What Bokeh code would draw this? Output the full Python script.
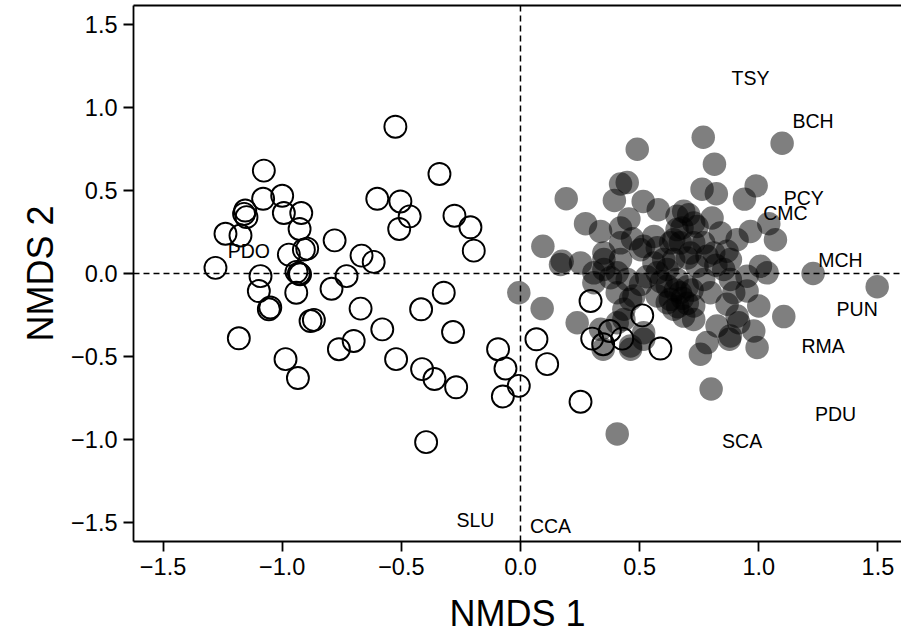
from bokeh.plotting import figure
from bokeh.models import Span, LinearAxis, FixedTicker, ColumnDataSource
from bokeh.core.properties import value
from bokeh.embed import file_html
from bokeh.resources import INLINE

# Group A (open circles)
open_x = [-0.525, -1.077, -0.340, -1.080, -1.000, -0.601, -0.504, -1.155, -1.160, -1.150,
          -0.993, -0.920, -0.465, -0.277, -0.927, -0.509, -0.210, -0.196, -1.238, -1.175,
          -0.780, -0.909, -0.895, -0.972, -0.667, -0.616, -1.280, -1.091, -0.930, -0.940,
          -0.925, -0.730, -0.322, -1.098, -0.941, -0.793, -1.056, -1.050, -0.881, -0.867,
          -0.671, -0.417, -1.182, -0.580, -0.283, -0.700, -0.762, -0.986, -0.934, -0.522,
          -0.413, -0.361, -0.270, -0.094, -0.063, -0.007, -0.074, -0.396, 0.294, 0.511,
          0.067, 0.112, 0.301, 0.375, 0.347, 0.427, 0.587, 0.252]
open_y = [0.886, 0.621, 0.601, 0.451, 0.469, 0.451, 0.435, 0.380, 0.360, 0.340,
          0.365, 0.365, 0.345, 0.349, 0.269, 0.269, 0.279, 0.138, 0.240, 0.229,
          0.200, 0.144, 0.150, 0.114, 0.108, 0.070, 0.034, -0.016, 0.000, 0.010,
          -0.005, -0.016, -0.116, -0.106, -0.116, -0.092, -0.216, -0.205, -0.287, -0.280,
          -0.212, -0.216, -0.391, -0.337, -0.353, -0.407, -0.457, -0.517, -0.631, -0.517,
          -0.577, -0.637, -0.687, -0.457, -0.573, -0.678, -0.742, -1.018, -0.166, -0.253,
          -0.397, -0.547, -0.393, -0.347, -0.427, -0.393, -0.453, -0.774]

# Group B (filled grey circles)
fill_x = [0.767, 1.098, 0.490, 0.814, 0.192, 0.448, 0.420, 0.762, 0.822, 0.989,
          0.940, 0.394, 0.515, 0.578, 0.273, 0.455, 0.336, 0.706, 0.741, 0.804,
          0.678, 0.839, 0.965, 1.042, 1.070, 0.094, 0.175, 0.252, 0.350, 0.420,
          0.517, 0.560, 0.643, 0.727, 0.783, 0.867, 0.909, 0.308, 0.406, 0.560,
          0.616, 0.700, 0.853, 0.951, 1.035, 1.228, 1.497, -0.007, 0.091, 0.238,
          0.347, 0.462, 0.517, 0.755, 0.783, 0.877, 0.979, 0.993, 1.105, 0.800,
          0.406, 0.825, 0.916, 0.727, 0.643, 0.434, 0.462, 0.657, 0.420, 0.350,
          0.470, 0.504, 0.574, 0.630, 0.601, 0.420, 0.685, 0.727, 0.657, 0.671,
          0.769, 0.713, 0.811, 0.881, 1.007, 0.643, 0.168, 0.308, 0.378, 0.448,
          0.504, 0.406, 0.476, 0.574, 0.616, 0.434, 0.406, 0.336, 0.517, 0.462,
          0.616, 0.574, 0.350, 1.000, 0.951, 0.881, 0.820, 0.895, 0.867, 0.909,
          0.881, 0.727, 0.685, 0.671, 0.657, 0.769, 0.797, 0.741, 0.629, 0.650,
          0.680, 0.700, 0.660, 0.700, 0.720, 0.530, 0.590]
fill_y = [0.822, 0.786, 0.750, 0.660, 0.451, 0.549, 0.540, 0.509, 0.481, 0.529,
          0.449, 0.441, 0.435, 0.385, 0.301, 0.329, 0.254, 0.355, 0.284, 0.335,
          0.275, 0.245, 0.254, 0.301, 0.204, 0.164, 0.074, 0.064, 0.124, 0.185,
          0.164, 0.224, 0.204, 0.185, 0.104, 0.134, 0.204, 0.004, 0.004, 0.064,
          0.024, 0.094, 0.024, -0.016, 0.004, 0.000, -0.080, -0.116, -0.212, -0.297,
          -0.457, -0.457, -0.397, -0.487, -0.417, -0.397, -0.347, -0.447, -0.260, -0.697,
          -0.968, -0.317, -0.297, -0.277, -0.216, -0.277, -0.156, 0.345, 0.275, 0.084,
          0.210, 0.144, 0.155, 0.185, 0.084, 0.084, 0.375, 0.305, 0.265, 0.185,
          0.185, 0.124, 0.124, 0.084, 0.044, 0.084, 0.054, -0.056, -0.026, -0.036,
          -0.066, -0.116, -0.136, -0.136, -0.176, -0.216, -0.297, -0.337, -0.357, -0.437,
          -0.076, 0.004, 0.024, -0.196, -0.106, -0.036, 0.050, -0.116, -0.186, -0.257,
          -0.377, -0.196, -0.257, -0.116, -0.036, -0.036, -0.116, 0.044, -0.156, -0.100,
          -0.150, -0.080, -0.200, -0.180, -0.100, -0.020, -0.050]

# Species labels
species = ["TSY", "BCH", "PCY", "CMC", "MCH", "PUN", "RMA", "PDU", "SCA", "PDO", "SLU", "CCA"]
species_x = [0.965, 1.228, 1.189, 1.112, 1.343, 1.413, 1.270, 1.322, 0.930, -1.140, -0.189, 0.126]
species_y = [1.178, 0.922, 0.455, 0.365, 0.084, -0.212, -0.437, -0.848, -1.008, 0.134, -1.485, -1.527]

ticks = [-1.5, -1.0, -0.5, 0.0, 0.5, 1.0, 1.5]
tick_labels = ["\u22121.5", "\u22121.0", "\u22120.5", "0.0", "0.5", "1.0", "1.5"]

FONT = "Liberation Sans"

p = figure(width=901, height=636, x_range=(-1.624, 1.599), y_range=(-1.6176, 1.6176),
           output_backend="svg", toolbar_location=None,
           min_border_left=133, min_border_right=0, min_border_top=5, min_border_bottom=93)
p.outline_line_color = None
p.grid.visible = False
p.background_fill_color = "white"

p.scatter(fill_x, fill_y, size=23.5, fill_color="black", fill_alpha=0.5, line_color=None)
p.scatter(open_x, open_y, size=22, fill_color=None, line_color="black", line_width=1.9)

src = ColumnDataSource(dict(x=species_x, y=species_y, t=species))
p.text(x="x", y="y", text="t", source=src, text_align="center", text_baseline="middle",
       text_font=value(FONT), text_font_size="19.5px", text_color="black")

p.add_layout(Span(location=0, dimension="height", line_color="black", line_width=1.5, line_dash="6 4"))
p.add_layout(Span(location=0, dimension="width", line_color="black", line_width=1.5, line_dash="6 4"))

overrides = {t: l for t, l in zip(ticks, tick_labels)}
for ax in (p.xaxis[0], p.yaxis[0]):
    ax.ticker = FixedTicker(ticks=ticks)
    ax.major_label_overrides = overrides
    ax.major_label_text_font = FONT
    ax.major_label_text_font_size = "23.5px"
    ax.major_label_text_color = "black"
    ax.axis_label_text_font = FONT
    ax.axis_label_text_font_size = "36px"
    ax.axis_label_text_font_style = "normal"
    ax.axis_label_text_color = "black"
    ax.axis_line_width = 1.8
    ax.axis_line_color = "black"
    ax.major_tick_line_width = 1.8
    ax.major_tick_line_color = "black"
    ax.major_tick_out = 10
    ax.major_tick_in = 0
    ax.minor_tick_line_color = None

p.xaxis.axis_label = "NMDS 1"
p.yaxis.axis_label = "NMDS 2"
p.xaxis.major_label_standoff = 6
p.yaxis.major_label_standoff = 6
p.xaxis.axis_label_standoff = 15
p.yaxis.axis_label_standoff = 7

top = LinearAxis(ticker=FixedTicker(ticks=[]), major_label_text_font_size="0px",
                 major_tick_out=0, major_tick_in=0, minor_tick_line_color=None,
                 major_label_standoff=0, axis_line_width=1.8, axis_line_color="black")
p.add_layout(top, "above")

open("out.html", "w").write(file_html(p, INLINE))
